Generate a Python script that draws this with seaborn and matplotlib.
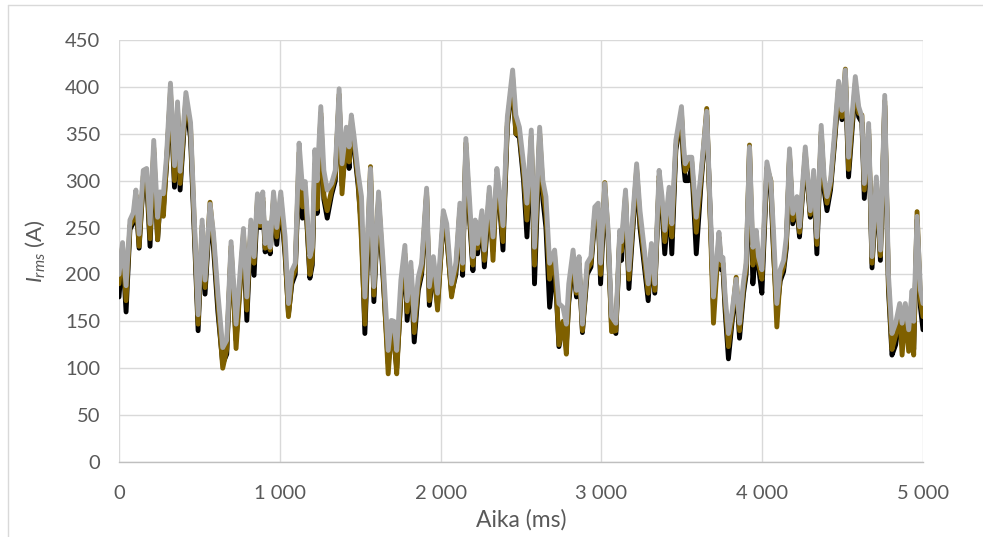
import matplotlib
matplotlib.use("Agg")
import matplotlib.pyplot as plt
import seaborn as sns
import pandas as pd
from matplotlib.lines import Line2D
from matplotlib.ticker import FuncFormatter

# ---- data ----
time_ms = [0, 22, 44, 68, 89, 105, 125, 151, 172, 193, 216, 240, 255, 276, 295, 320, 345, 364, 380, 416,
           445, 470, 492, 517, 535, 566, 587, 615, 645, 670, 697, 728, 774, 795, 820, 840, 861, 878, 894, 909,
           925, 940, 961, 981, 1006, 1033, 1054, 1075, 1096, 1120, 1141, 1158, 1187, 1202, 1218, 1232, 1255, 1274, 1295, 1322,
           1345, 1369, 1387, 1414, 1431, 1445, 1462, 1487, 1508, 1529, 1564, 1585, 1614, 1643, 1674, 1694, 1710, 1727, 1753, 1778,
           1792, 1815, 1836, 1861, 1882, 1913, 1930, 1955, 1981, 2017, 2038, 2068, 2095, 2120, 2137, 2157, 2180, 2201, 2215, 2230,
           2257, 2272, 2303, 2326, 2350, 2366, 2388, 2415, 2448, 2468, 2490, 2516, 2537, 2564, 2584, 2616, 2636, 2655, 2678, 2709,
           2736, 2761, 2782, 2797, 2824, 2845, 2861, 2882, 2911, 2935, 2959, 2980, 2995, 3021, 3042, 3063, 3090, 3114, 3125, 3150,
           3171, 3219, 3240, 3291, 3311, 3332, 3359, 3377, 3394, 3421, 3438, 3463, 3498, 3510, 3521, 3542, 3562, 3590, 3621, 3655,
           3697, 3731, 3745, 3756, 3770, 3790, 3810, 3838, 3859, 3884, 3900, 3921, 3942, 3963, 3977, 3998, 4029, 4054, 4070, 4091,
           4112, 4133, 4150, 4170, 4190, 4216, 4232, 4268, 4299, 4320, 4340, 4367, 4385, 4403, 4425, 4448, 4475, 4496, 4517, 4537,
           4579, 4600, 4620, 4635, 4662, 4683, 4710, 4735, 4762, 4785, 4807, 4830, 4855, 4870, 4890, 4911, 4932, 4942, 4963, 4984,
           5000]

irms_gray = [200, 234, 188, 258, 266, 290, 243, 311, 313, 254, 343, 261, 288, 286, 325, 404, 316, 384, 310, 394,
             362, 252, 157, 258, 194, 275, 245, 180, 122, 130, 235, 147, 249, 176, 258, 219, 286, 256, 288, 233,
             255, 229, 288, 250, 288, 240, 169, 204, 212, 340, 292, 299, 219, 229, 333, 300, 379, 311, 290, 297,
             311, 398, 318, 357, 336, 370, 347, 308, 283, 176, 313, 187, 288, 212, 119, 151, 150, 119, 194, 231,
             172, 213, 151, 197, 212, 292, 187, 219, 180, 268, 254, 190, 212, 276, 212, 345, 280, 219, 258, 233,
             268, 226, 293, 240, 313, 290, 252, 368, 418, 370, 357, 318, 276, 354, 229, 357, 300, 283, 212, 226,
             169, 165, 147, 190, 226, 183, 219, 147, 212, 219, 272, 276, 212, 297, 247, 155, 148, 247, 235, 290,
             205, 318, 268, 190, 233, 190, 311, 283, 247, 293, 254, 343, 379, 340, 318, 325, 325, 261, 311, 374,
             176, 245, 215, 218, 176, 137, 157, 195, 148, 193, 212, 336, 229, 247, 219, 205, 320, 299, 247, 169,
             205, 215, 240, 334, 265, 283, 251, 336, 268, 311, 240, 359, 304, 283, 300, 347, 406, 375, 418, 325,
             411, 379, 368, 297, 361, 219, 304, 226, 391, 200, 137, 148, 169, 148, 169, 141, 183, 150, 262, 183,
             169]

irms_gold = [190, 230, 172, 252, 258, 285, 230, 305, 306, 238, 335, 237, 280, 262, 318, 395, 300, 378, 297, 388,
             356, 245, 147, 252, 186, 277, 238, 170, 100, 120, 230, 121, 244, 162, 252, 212, 280, 252, 282, 228,
             250, 226, 282, 240, 282, 225, 155, 195, 205, 330, 272, 292, 200, 215, 318, 270, 372, 284, 268, 290,
             305, 392, 286, 350, 320, 364, 340, 300, 236, 147, 315, 178, 282, 200, 94, 140, 135, 94, 180, 222,
             160, 205, 138, 188, 204, 288, 172, 210, 162, 262, 245, 176, 205, 270, 205, 340, 265, 210, 250, 228,
             262, 215, 287, 215, 306, 280, 235, 362, 410, 350, 350, 308, 258, 347, 210, 350, 290, 265, 195, 220,
             125, 150, 115, 175, 220, 180, 212, 140, 205, 212, 265, 270, 200, 298, 240, 139, 140, 242, 225, 285,
             195, 312, 258, 180, 228, 183, 305, 275, 235, 287, 240, 337, 372, 330, 310, 318, 320, 245, 305, 377,
             148, 240, 210, 212, 168, 123, 150, 197, 140, 186, 205, 338, 210, 240, 212, 195, 314, 300, 230, 144,
             198, 208, 232, 328, 258, 276, 245, 330, 264, 305, 232, 352, 296, 276, 295, 340, 400, 368, 419, 312,
             404, 372, 370, 290, 355, 212, 298, 220, 385, 190, 120, 135, 160, 114, 160, 118, 175, 114, 267, 172,
             155]

irms_black = [176, 225, 160, 248, 255, 282, 228, 300, 302, 230, 330, 237, 276, 270, 315, 390, 293, 374, 290, 385,
              345, 235, 140, 246, 179, 268, 230, 160, 105, 115, 225, 130, 240, 151, 248, 199, 275, 250, 278, 224,
              246, 222, 278, 232, 278, 220, 158, 190, 200, 320, 260, 288, 196, 210, 310, 265, 368, 280, 260, 285,
              300, 388, 295, 345, 313, 360, 335, 295, 250, 137, 305, 171, 278, 195, 105, 135, 130, 100, 175, 218,
              151, 200, 128, 183, 200, 284, 167, 205, 168, 258, 240, 180, 200, 266, 199, 335, 260, 204, 245, 222,
              258, 208, 283, 225, 302, 276, 226, 358, 405, 350, 346, 300, 240, 343, 190, 345, 280, 250, 165, 215,
              123, 148, 125, 170, 215, 176, 208, 138, 200, 208, 260, 265, 190, 290, 235, 145, 137, 238, 215, 280,
              185, 308, 250, 172, 224, 180, 300, 270, 222, 283, 222, 333, 368, 320, 300, 300, 315, 222, 300, 370,
              165, 235, 205, 206, 160, 110, 145, 190, 132, 180, 200, 330, 190, 236, 208, 180, 310, 290, 225, 160,
              193, 203, 228, 324, 254, 272, 240, 326, 261, 300, 222, 348, 290, 268, 290, 336, 396, 365, 410, 304,
              400, 368, 362, 281, 350, 207, 294, 215, 380, 185, 114, 125, 155, 125, 155, 125, 170, 120, 258, 165,
              141]

series_names = ["musta", "kulta", "harmaa"]
series_colors = ["#000000", "#7F6000", "#A5A5A5"]
x_ticks = [0, 1000, 2000, 3000, 4000, 5000]
y_ticks = [0, 50, 100, 150, 200, 250, 300, 350, 400, 450]

# ---- long-form table ----
frames = []
for name, vals in zip(series_names, [irms_black, irms_gold, irms_gray]):
    frames.append(pd.DataFrame({"t": time_ms, "I": vals, "s": name}))
df = pd.concat(frames, ignore_index=True)

sns.set_theme(style="white")
plt.rcParams["font.family"] = ["Lato", "DejaVu Sans"]
plt.rcParams["mathtext.fontset"] = "custom"
plt.rcParams["mathtext.rm"] = "Lato"
plt.rcParams["mathtext.it"] = "Lato:italic"

fig = plt.figure(figsize=(9.83, 5.37), dpi=100)
ax = fig.add_axes([119 / 983, 1 - 462 / 537, (923 - 119) / 983, (462 - 40) / 537])

sns.lineplot(data=df, x="t", y="I", hue="s", hue_order=series_names,
             palette=dict(zip(series_names, series_colors)),
             estimator=None, sort=False, linewidth=3.5, legend=False, ax=ax)

ax.set_xlim(0, 5000)
ax.set_ylim(0, 450)
ax.set_xticks(x_ticks)
ax.set_yticks(y_ticks)
ax.xaxis.set_major_formatter(FuncFormatter(lambda v, p: f"{int(v):,}".replace(",", " ")))
ax.grid(True, color="#D9D9D9", linewidth=1.0)
ax.set_axisbelow(True)
for side in ["left", "right", "top"]:
    ax.spines[side].set_visible(False)
ax.spines["bottom"].set_color("#BFBFBF")
ax.spines["bottom"].set_linewidth(1.0)
ax.tick_params(axis="both", length=0, labelsize=14.5, labelcolor="#595959")
ax.tick_params(axis="y", pad=13.5)
ax.tick_params(axis="x", pad=16.5)

ax.set_xlabel("Aika (ms)", fontsize=16.5, color="#595959", labelpad=5)
ax.set_ylabel(r"$I_{rms}$ (A)", fontsize=16, color="#595959", labelpad=13)

# chart-area border (left and top edges visible in reference)
fig.add_artist(Line2D([8 / 983, 8 / 983], [0, 1 - 5 / 537], transform=fig.transFigure,
                      color="#D9D9D9", linewidth=1.0))
fig.add_artist(Line2D([8 / 983, 1], [1 - 5 / 537, 1 - 5 / 537], transform=fig.transFigure,
                      color="#D9D9D9", linewidth=1.0))

fig.savefig("out.png", dpi=100)
